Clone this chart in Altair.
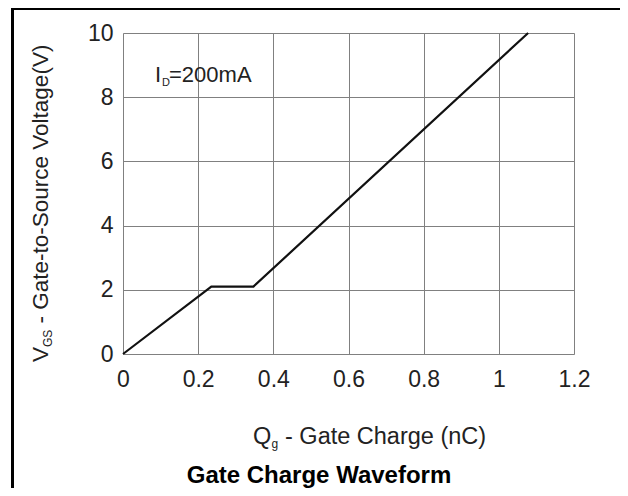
import altair as alt
import pandas as pd

# Data
gate_charge = [0.0, 0.235, 0.347, 1.078]   # nC
vgs = [0.0, 2.1, 2.1, 10.0]                 # V
x_ticks = [0, 0.2, 0.4, 0.6, 0.8, 1, 1.2]
y_ticks = [0, 2, 4, 6, 8, 10]

FONT = "Liberation Sans"
W, H = 451, 321

df = pd.DataFrame({"q": gate_charge, "v": vgs})

line = alt.Chart(df).mark_line(color="#111111", strokeWidth=2.2, clip=False).encode(
    x=alt.X("q:Q", scale=alt.Scale(domain=[0, 1.2], nice=False),
            axis=alt.Axis(values=x_ticks, format="~g", title=None, grid=True,
                          gridColor="#808080", gridWidth=1, gridOpacity=1,
                          domain=False, ticks=False, labelFont=FONT, labelFontSize=23,
                          labelColor="#222222", labelPadding=14, labelFlush=False)),
    y=alt.Y("v:Q", scale=alt.Scale(domain=[0, 10], nice=False),
            axis=alt.Axis(values=y_ticks, title=None, grid=True,
                          gridColor="#808080", gridWidth=1, gridOpacity=1,
                          domain=False, ticks=False, labelFont=FONT, labelFontSize=23,
                          labelColor="#222222", labelPadding=10, labelFlush=False)),
)


def txt(s, x, y, size, angle=0, align="left", weight="normal", color="#222222"):
    return alt.Chart(pd.DataFrame({"t": [s]})).mark_text(
        font=FONT, fontSize=size, angle=angle, align=align, baseline="alphabetic",
        fontWeight=weight, color=color,
    ).encode(text="t:N", x=alt.value(x), y=alt.value(y))


border = alt.Chart(pd.DataFrame({"a": [0]})).mark_rect(
    fill=None, stroke="black", strokeWidth=3
).encode(x=alt.value(-110.5), x2=alt.value(502), y=alt.value(-24.5), y2=alt.value(500))

layers = [
    border,
    line,
    # annotation I_D=200mA
    txt("I", 32, 49, 22),
    txt("D", 39, 53, 11),
    txt("=200mA", 46, 49, 22),
    # y-axis title (rotated)
    txt("V", -75, 329, 22.5, angle=270),
    txt("GS", -71, 314, 12, angle=270),
    txt("- Gate-to-Source Voltage(V)", -75, 290.5, 22.5, angle=270),
    # x-axis title
    txt("Q", 130, 411, 23.5),
    txt("g", 148.5, 415, 12),
    txt("- Gate Charge (nC)", 162, 411, 23.5),
    # chart caption
    txt("Gate Charge Waveform", 196, 450, 24, align="center", weight="bold", color="#000000"),
]

chart = alt.layer(*layers).properties(
    width=W, height=H,
    autosize="none",
    padding={"left": 115, "top": 25, "right": 46, "bottom": 134},
).configure_view(stroke="#707070", strokeWidth=1.2).configure(background="white")

chart.save("out.html", embed_options={"renderer": "svg", "actions": False})
